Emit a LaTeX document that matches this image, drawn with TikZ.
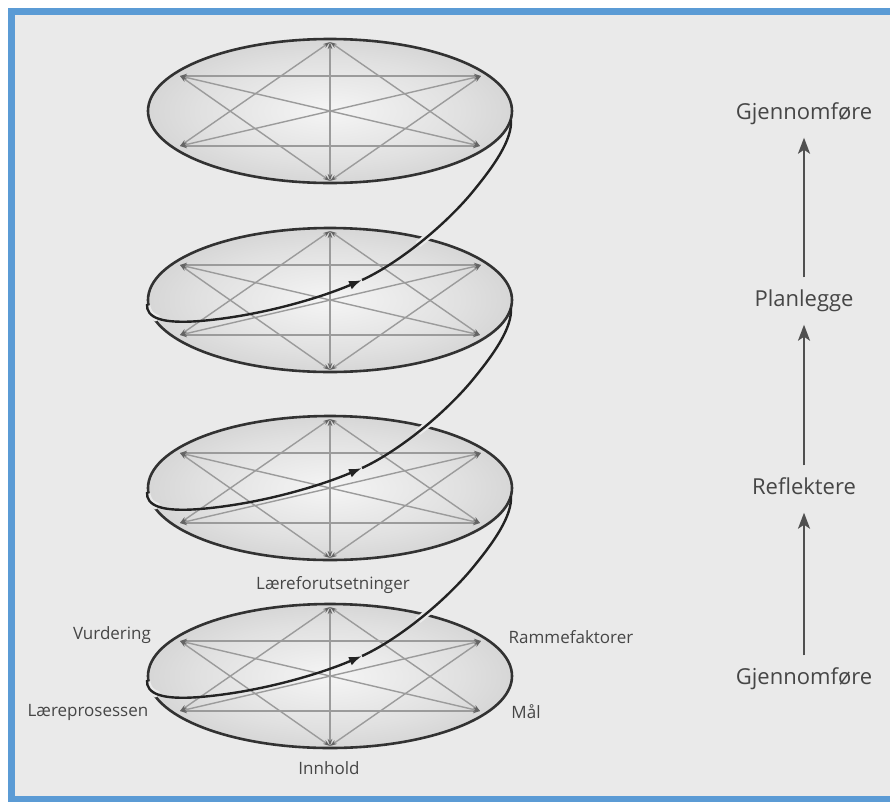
\documentclass[tikz,border=0pt]{standalone}
\usepackage{fontspec}
\setmainfont{Open Sans}
\usetikzlibrary{arrows.meta}
\definecolor{bgpage}{RGB}{234,234,234}
\definecolor{frameblue}{RGB}{91,155,213}
\definecolor{linkgray}{RGB}{155,155,155}
\definecolor{tipgray}{RGB}{100,100,100}
\definecolor{rimcol}{RGB}{50,50,50}
\definecolor{spiralcol}{RGB}{35,35,35}
\definecolor{txtcol}{RGB}{70,70,70}
\definecolor{arrowgray}{RGB}{80,80,80}
\pgfdeclareradialshading{discshade}{\pgfpoint{0bp}{0bp}}{color(0bp)=(white!96!black); color(18bp)=(white!88!black); color(50bp)=(white!70!black)}
\tikzset{
  link/.style={draw=linkgray, line width=1.4pt,
    {Stealth[length=7pt,width=4.5pt,color=tipgray]}-{Stealth[length=7pt,width=4.5pt,color=tipgray]}},
  rim/.style={draw=rimcol, line width=2.6pt},
  spiral/.style={draw=spiralcol, line width=2.4pt},
  halo/.style={draw=bgpage, line width=7pt},
  lab/.style={text=txtcol, font=\fontsize{17}{20}\selectfont, inner sep=0pt},
  phase/.style={text=txtcol, font=\fontsize{22}{26}\selectfont, inner sep=0pt, text height=17pt, text depth=4pt},
  phasearrow/.style={draw=arrowgray, line width=2.2pt, -{Stealth[length=16pt,width=12pt,inset=4pt]}, shorten <=12pt, shorten >=14pt}
}
\begin{document}
\begin{tikzpicture}[x=1pt,y=-1pt]
\useasboundingbox (0,0) rectangle (890,806);
% page
\fill[white] (0,0) rectangle (890,806);
\fill[bgpage] (8,8) rectangle (890,802);
\fill[frameblue] (8,8) rectangle (890,15);
\fill[frameblue] (8,8) rectangle (15,802);
\fill[frameblue] (8,796) rectangle (890,802);
% discs
\foreach \i/\cy in {1/111,2/300,3/488,4/676}{
  \shade[shading=discshade] (330,\cy) ellipse [x radius=182, y radius=72];
  \coordinate (T\i) at (330,{\cy-69});
  \coordinate (B\i) at (330,{\cy+70});
  \coordinate (UL\i) at (180,{\cy-35});
  \coordinate (UR\i) at (481,{\cy-35});
  \coordinate (LL\i) at (180,{\cy+35});
  \coordinate (LR\i) at (480,{\cy+35});
  \draw[link] (T\i) -- (B\i);
  \draw[link] (UL\i) -- (UR\i);
  \draw[link] (LL\i) -- (LR\i);
  \draw[link] (T\i) -- (LL\i);
  \draw[link] (T\i) -- (LR\i);
  \draw[link] (B\i) -- (UL\i);
  \draw[link] (B\i) -- (UR\i);
  \draw[link] (UL\i) -- (LR\i);
  \draw[link] (UR\i) -- (LL\i);
  \draw[rim] (330,\cy) ellipse [x radius=182, y radius=72];
}
% spiral
\foreach \cy in {300,488,676}{
  \coordinate (S) at (147,{\cy+4});
  \coordinate (M) at (200,{\cy+21});
  \coordinate (A) at (362,{\cy-20});
  \coordinate (D) at (470,{\cy-105});
  \coordinate (E) at (511,{\cy-180});
  \begin{scope}
    \clip (425,{\cy-62}) circle (10);
    \draw[halo] (A) .. controls (395,{\cy-35}) and (440,{\cy-70}) .. (D);
  \end{scope}
  \begin{scope}
    \clip (151,{\cy+14}) circle (9);
    \draw[halo] (S) .. controls (146,{\cy+18}) and (162,{\cy+24}) .. (M);
  \end{scope}
  \draw[spiral, -{Latex[length=13pt,width=9pt]}] (S) .. controls (146,{\cy+18}) and (162,{\cy+24}) .. (M)
     .. controls (260,{\cy+16}) and (320,{\cy-2}) .. (A);
  \draw[spiral] (A) .. controls (395,{\cy-35}) and (440,{\cy-70}) .. (D)
     .. controls (495,{\cy-135}) and (512,{\cy-160}) .. (E);
}
% labels of the bottom disc
\node[lab] (lf) at (333,585) {Læreforutsetninger};
\node[lab] (vu) at (112,635) {Vurdering};
\node[lab] (lp) at (88,712) {Læreprosessen};
\node[lab] (rf) at (571,637) {Rammefaktorer};
\node[lab] (ma) at (526,712) {Mål};
\node[lab] (in) at (329,768) {Innhold};
% phases
\node[phase] (g1) at (804,678) {Gjennomføre};
\node[phase] (re) at (804,488) {Reflektere};
\node[phase] (pl) at (804,300) {Planlegge};
\node[phase] (g2) at (804,113) {Gjennomføre};
\draw[phasearrow] (g1) -- (re);
\draw[phasearrow] (re) -- (pl);
\draw[phasearrow] (pl) -- (g2);
\end{tikzpicture}
\end{document}
